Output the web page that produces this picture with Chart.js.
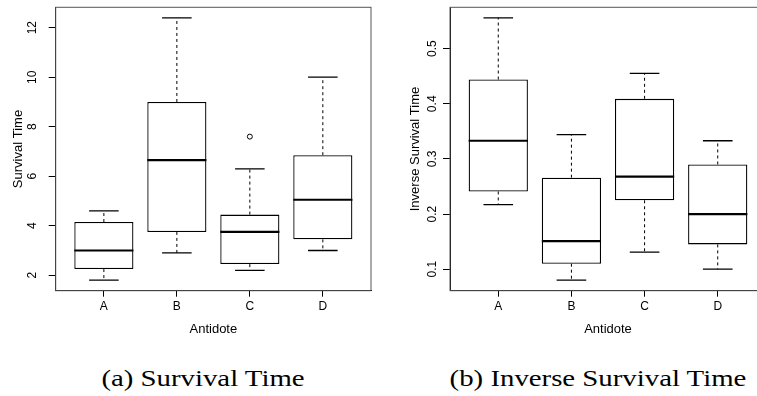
<!DOCTYPE html>
<html>
<head>
<meta charset="utf-8">
<script src="https://cdn.jsdelivr.net/npm/chart.js@4.4.0/dist/chart.umd.min.js"></script>
<style>
  html, body { margin: 0; padding: 0; background: #fff; width: 757px; height: 396px; overflow: hidden; position: relative; }
  canvas { position: absolute; top: 0; }
  #chartA { left: 0; }
  #chartB { left: 380px; }
  .caption {
    position: absolute; width: 400px; top: 364px;
    text-align: center; white-space: nowrap; color: #000;
    font-family: 'Liberation Serif', 'Times New Roman', serif;
    font-size: 24px; line-height: 28px;
    transform: scaleX(1.2);
  }
</style>
</head>
<body>
<canvas id="chartA" width="380" height="345"></canvas>
<canvas id="chartB" width="400" height="345"></canvas>
<div class="caption" style="left:3px">(a) Survival Time</div>
<div class="caption" style="left:397.5px">(b) Inverse Survival Time</div>
<script>
// groups
const antidotes = ['A', 'B', 'C', 'D'];

// survival time: five-number summaries
const survLow = [1.8, 2.9, 2.2, 3.0];
const survQ1 = [2.25, 3.75, 2.45, 3.45];
const survMed = [3.0, 6.65, 3.75, 5.05];
const survQ3 = [4.15, 9.0, 4.45, 6.85];
const survHigh = [4.6, 12.4, 6.3, 10.0];
const survOutGroup = ['C'];
const survOutValue = [7.6];
const survTicks = [2, 4, 6, 8, 10, 12];

// inverse survival time
const invLow = [0.217, 0.080, 0.131, 0.100];
const invQ1 = [0.241, 0.110, 0.225, 0.145];
const invMed = [0.333, 0.151, 0.268, 0.200];
const invQ3 = [0.444, 0.266, 0.409, 0.290];
const invHigh = [0.556, 0.344, 0.455, 0.333];
const invTicks = [0.1, 0.2, 0.3, 0.4, 0.5];

Chart.defaults.font.family = "'Liberation Sans', Arial, sans-serif";
Chart.defaults.color = '#000';

// frame, whiskers, caps, medians and rotated y labels (R boxplot look)
const boxExtras = {
  id: 'boxExtras',
  beforeDatasetsDraw(chart) {
    const { ctx, chartArea: a } = chart;
    ctx.save();
    ctx.strokeStyle = '#555';
    ctx.lineWidth = 1;
    ctx.strokeRect(a.left, a.top, a.right - a.left, a.bottom - a.top);
    ctx.restore();
  },
  afterDatasetsDraw(chart, args, o) {
    const ctx = chart.ctx;
    const y = chart.scales.y;
    const bars = chart.getDatasetMeta(0).data;
    ctx.save();
    ctx.strokeStyle = '#000';
    bars.forEach((bar, i) => {
      const cx = bar.x;
      const w = bar.width;
      const pLow = y.getPixelForValue(o.low[i]);
      const pHigh = y.getPixelForValue(o.high[i]);
      const pQ1 = y.getPixelForValue(o.q1[i]);
      const pQ3 = y.getPixelForValue(o.q3[i]);
      const pMed = y.getPixelForValue(o.med[i]);

      ctx.setLineDash([3, 3]);
      ctx.lineWidth = 1;
      ctx.beginPath();
      ctx.moveTo(cx, pQ3); ctx.lineTo(cx, pHigh);
      ctx.moveTo(cx, pQ1); ctx.lineTo(cx, pLow);
      ctx.stroke();

      ctx.setLineDash([]);
      ctx.lineWidth = 1.3;
      ctx.beginPath();
      ctx.moveTo(cx - w / 4, pHigh); ctx.lineTo(cx + w / 4, pHigh);
      ctx.moveTo(cx - w / 4, pLow); ctx.lineTo(cx + w / 4, pLow);
      ctx.stroke();

      ctx.lineWidth = 2.2;
      ctx.beginPath();
      ctx.moveTo(cx - w / 2, pMed); ctx.lineTo(cx + w / 2, pMed);
      ctx.stroke();
    });
    ctx.restore();
  },
  afterDraw(chart, args, o) {
    const ctx = chart.ctx;
    const y = chart.scales.y;
    ctx.save();
    ctx.fillStyle = '#000';
    ctx.font = "12px 'Liberation Sans', Arial, sans-serif";
    ctx.textAlign = 'center';
    ctx.textBaseline = 'middle';
    y.ticks.forEach(t => {
      ctx.save();
      ctx.translate(o.labelX, y.getPixelForValue(t.value));
      ctx.rotate(-Math.PI / 2);
      ctx.fillText(String(t.value), 0, 0);
      ctx.restore();
    });
    ctx.restore();
  }
};

function makeBoxChart(id, s) {
  const boxes = antidotes.map((g, i) => ({ x: i + 1, y: [s.q1[i], s.q3[i]] }));
  const outliers = (s.outGroup || []).map((g, i) => ({ x: antidotes.indexOf(g) + 1, y: s.outValue[i] }));
  return new Chart(document.getElementById(id), {
    type: 'bar',
    data: {
      datasets: [{
        data: boxes,
        backgroundColor: '#fff',
        borderColor: '#000',
        borderWidth: 1.3,
        borderSkipped: false,
        categoryPercentage: 1,
        barPercentage: 0.81
      }, {
        type: 'scatter',
        data: outliers,
        pointRadius: 2.5,
        pointBackgroundColor: '#fff',
        pointBorderColor: '#000',
        pointBorderWidth: 1
      }]
    },
    options: {
      responsive: false,
      animation: false,
      events: [],
      layout: { padding: { left: 0, top: 7.3, right: s.padRight, bottom: 0 } },
      scales: {
        x: {
          type: 'linear',
          offset: false,
          min: 0.34,
          max: 4.66,
          afterBuildTicks: sc => { sc.ticks = antidotes.map((g, i) => ({ value: i + 1 })); },
          afterFit: sc => { sc.height = 345 - 290.7; },
          grid: { display: true, offset: false, drawOnChartArea: false, drawTicks: true, tickLength: 6, tickColor: '#000' },
          border: { display: true, color: '#000', width: 1 },
          ticks: {
            autoSkip: false, maxRotation: 0, padding: 3,
            font: { size: 12 },
            callback: (v, i) => antidotes[i]
          },
          title: { display: true, text: 'Antidote', font: { size: 13 }, padding: { top: 0, bottom: 8.2 } }
        },
        y: {
          min: s.yMin,
          max: s.yMax,
          afterBuildTicks: sc => { sc.ticks = s.ticks.map(v => ({ value: v })); },
          afterFit: sc => { sc.width = s.axisWidth; },
          grid: { display: true, drawOnChartArea: false, drawTicks: true, tickLength: 7, tickColor: '#000' },
          border: { display: true, color: '#000', width: 1 },
          ticks: { display: false },
          title: { display: true, text: s.title, font: { size: 13 }, padding: { top: s.titlePad, bottom: 0 } }
        }
      },
      plugins: {
        legend: { display: false },
        tooltip: { enabled: false },
        boxExtras: { low: s.low, high: s.high, q1: s.q1, q3: s.q3, med: s.med, labelX: s.labelX }
      }
    },
    plugins: [boxExtras]
  });
}

makeBoxChart('chartA', {
  low: survLow, q1: survQ1, med: survMed, q3: survQ3, high: survHigh,
  outGroup: survOutGroup, outValue: survOutValue,
  ticks: survTicks, yMin: 1.376, yMax: 12.824,
  title: 'Survival Time', titlePad: 10.2, axisWidth: 55.7, labelX: 33, padRight: 9
});

makeBoxChart('chartB', {
  low: invLow, q1: invQ1, med: invMed, q3: invQ3, high: invHigh,
  ticks: invTicks, yMin: 0.061, yMax: 0.575,
  title: 'Inverse Survival Time', titlePad: 27.2, axisWidth: 70, labelX: 52.5, padRight: 14
});
</script>
</body>
</html>
